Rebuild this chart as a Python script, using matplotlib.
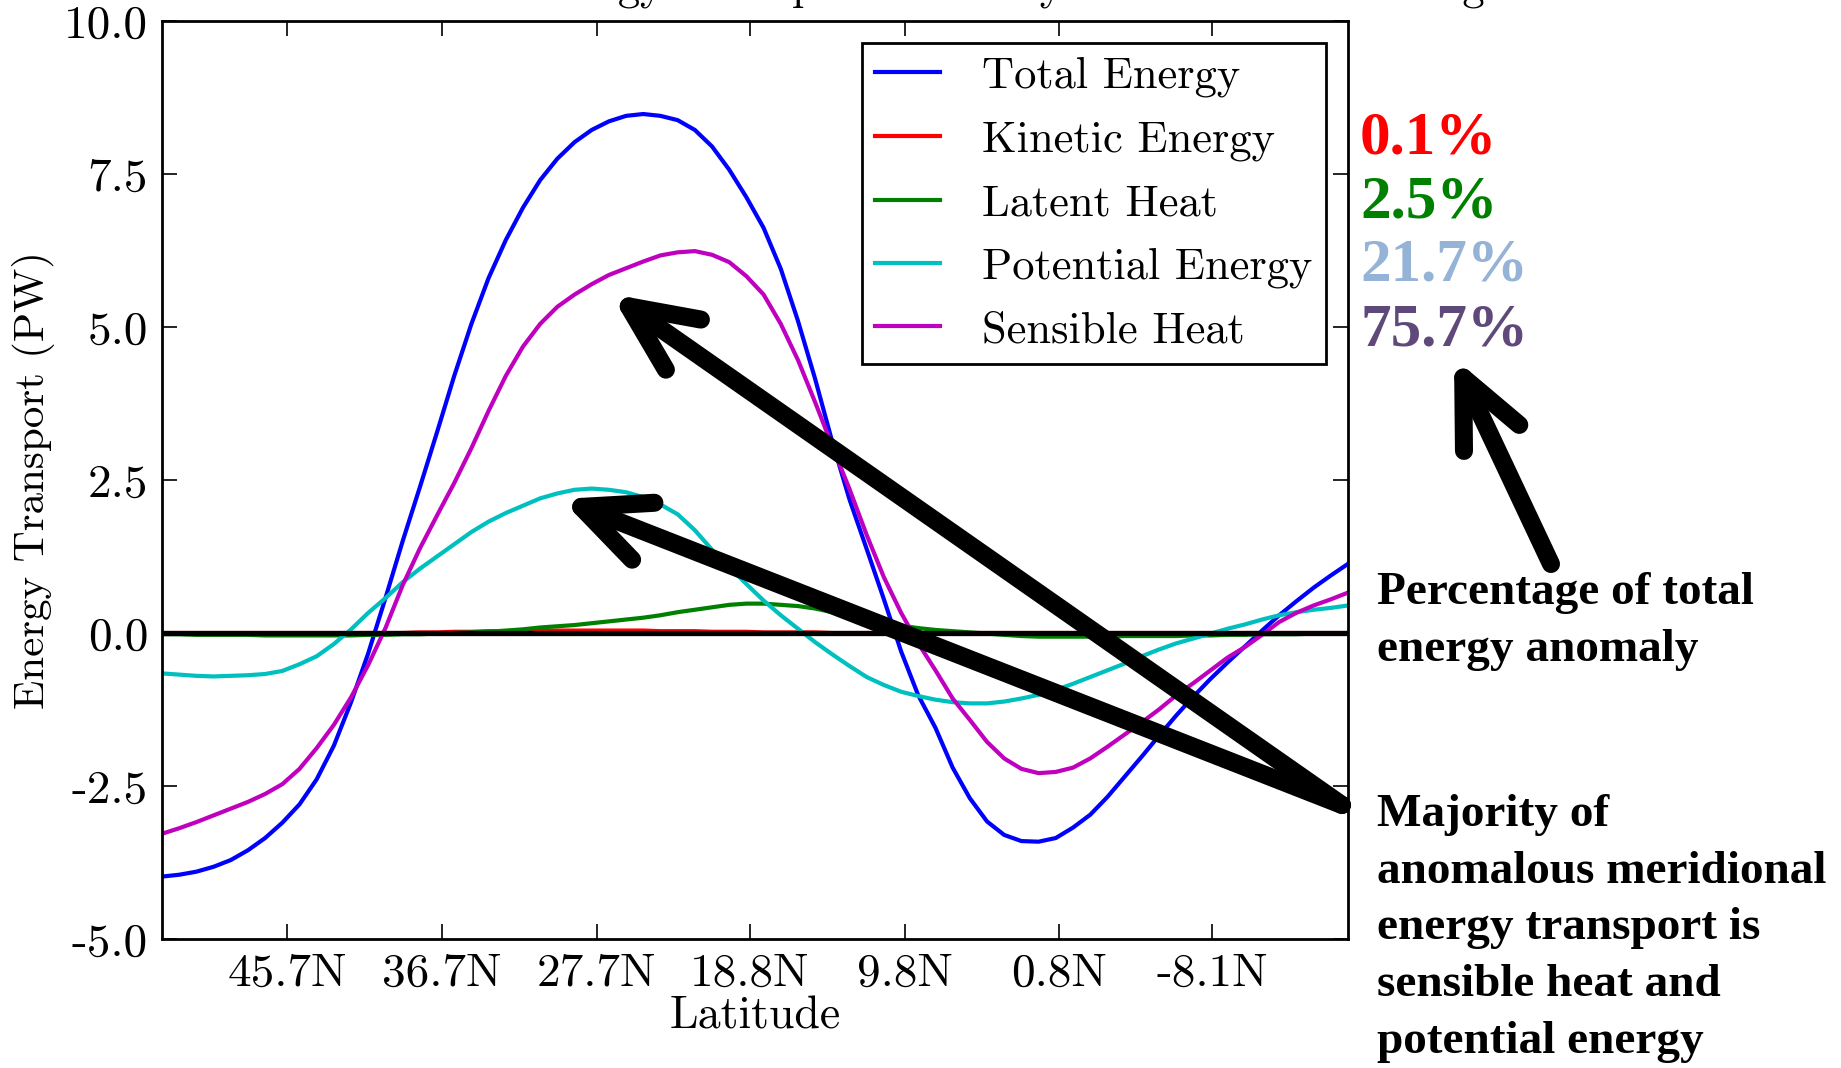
import matplotlib
matplotlib.use("Agg")
import matplotlib.pyplot as plt

plt.rcParams['font.family'] = 'serif'
plt.rcParams['font.serif'] = ['cmr10']
plt.rcParams['axes.unicode_minus'] = False
plt.rcParams['mathtext.fontset'] = 'cm'
plt.rcParams['axes.formatter.use_mathtext'] = True

# latitude (degrees N, 53 .. -16) and energy transport anomaly (PW)
lat = list(range(53, -17, -1))
total = [-3.98, -3.95, -3.90, -3.82, -3.71, -3.55, -3.35, -3.10, -2.80, -2.39,
         -1.84, -1.13, -0.33, 0.57, 1.50, 2.38, 3.28, 4.20, 5.05, 5.80,
         6.42, 6.95, 7.40, 7.75, 8.02, 8.22, 8.36, 8.45, 8.48, 8.45,
         8.38, 8.22, 7.95, 7.57, 7.12, 6.62, 5.95, 5.10, 4.15, 3.12,
         2.18, 1.37, 0.55, -0.30, -1.02, -1.55, -2.20, -2.70, -3.08, -3.30,
         -3.40, -3.41, -3.35, -3.18, -2.97, -2.68, -2.35, -2.02, -1.68, -1.35,
         -1.04, -0.75, -0.48, -0.22, 0.04, 0.29, 0.52, 0.74, 0.94, 1.13]
kinetic = [0.0, 0.0, 0.0, 0.0, 0.0, 0.0, 0.0, 0.0, 0.0, 0.0,
           0.0, 0.0, 0.0, 0.0, 0.0, 0.01, 0.01, 0.02, 0.02, 0.03,
           0.03, 0.04, 0.04, 0.04, 0.04, 0.04, 0.04, 0.04, 0.04, 0.03,
           0.03, 0.03, 0.02, 0.02, 0.02, 0.01, 0.01, 0.01, 0.01, 0.0,
           0.0, 0.0, 0.0, 0.0, 0.0, 0.0, 0.0, 0.0, 0.0, 0.0,
           0.0, 0.0, 0.0, 0.0, 0.0, 0.0, 0.0, 0.0, 0.0, 0.0,
           0.0, 0.0, 0.0, 0.0, 0.0, 0.0, 0.0, 0.0, 0.0, 0.0]
latent = [-0.02, -0.02, -0.03, -0.03, -0.03, -0.03, -0.04, -0.04, -0.04, -0.04,
          -0.04, -0.04, -0.03, -0.03, -0.02, -0.02, -0.01, 0.00, 0.01, 0.02,
          0.04, 0.06, 0.09, 0.11, 0.13, 0.16, 0.19, 0.22, 0.25, 0.29,
          0.34, 0.38, 0.42, 0.46, 0.48, 0.48, 0.46, 0.44, 0.40, 0.34,
          0.28, 0.21, 0.16, 0.12, 0.08, 0.05, 0.03, 0.01, -0.01, -0.03,
          -0.05, -0.06, -0.06, -0.06, -0.06, -0.06, -0.05, -0.05, -0.05, -0.05,
          -0.04, -0.04, -0.03, -0.03, -0.02, -0.02, -0.02, -0.01, -0.01, -0.01]
potential = [-0.66, -0.68, -0.70, -0.71, -0.70, -0.69, -0.67, -0.62, -0.51, -0.38,
             -0.18, 0.06, 0.33, 0.57, 0.83, 1.05, 1.25, 1.45, 1.65, 1.82,
             1.96, 2.08, 2.20, 2.28, 2.34, 2.36, 2.34, 2.30, 2.22, 2.10,
             1.94, 1.68, 1.36, 1.08, 0.80, 0.53, 0.29, 0.07, -0.15, -0.35,
             -0.54, -0.72, -0.85, -0.96, -1.03, -1.09, -1.13, -1.15, -1.15, -1.12,
             -1.07, -1.01, -0.93, -0.83, -0.72, -0.61, -0.50, -0.38, -0.27, -0.17,
             -0.09, -0.01, 0.07, 0.14, 0.22, 0.29, 0.34, 0.38, 0.41, 0.45]
sensible = [-3.28, -3.19, -3.09, -2.98, -2.87, -2.76, -2.63, -2.47, -2.22, -1.88,
            -1.50, -1.05, -0.52, 0.08, 0.78, 1.38, 1.92, 2.45, 3.02, 3.63,
            4.20, 4.68, 5.05, 5.33, 5.53, 5.70, 5.85, 5.96, 6.07, 6.17,
            6.22, 6.24, 6.18, 6.06, 5.83, 5.53, 5.05, 4.46, 3.77, 3.05,
            2.35, 1.60, 0.91, 0.33, -0.17, -0.61, -1.07, -1.42, -1.78, -2.05,
            -2.22, -2.29, -2.27, -2.20, -2.05, -1.86, -1.66, -1.46, -1.25, -1.02,
            -0.82, -0.61, -0.40, -0.23, -0.03, 0.18, 0.33, 0.45, 0.55, 0.66]

xtick_lats = [45.7, 36.7, 27.7, 18.8, 9.8, 0.8, -8.1]
xtick_labels = ['45.7N', '36.7N', '27.7N', '18.8N', '9.8N', '0.8N', '-8.1N']
yticks = [-5.0, -2.5, 0.0, 2.5, 5.0, 7.5, 10.0]

pct_labels = ['0.1%', '2.5%', '21.7%', '75.7%']
pct_colors = ['#FF0000', '#008000', '#95B3D7', '#5F497A']

W, H = 1841, 1068
fig = plt.figure(figsize=(W / 100, H / 100), dpi=100)
ax = fig.add_axes([162 / W, 1 - 939 / H, (1348 - 162) / W, (939 - 21) / H])


def fx(x):
    return x / W


def fy(y):
    return 1 - y / H


lw = 3.0
ax.plot(lat, total, color='b', lw=lw, label='Total Energy')
ax.plot(lat, kinetic, color='r', lw=lw, label='Kinetic Energy')
ax.plot(lat, latent, color='g', lw=lw, label='Latent Heat')
ax.plot(lat, potential, color='c', lw=lw, label='Potential Energy')
ax.plot(lat, sensible, color='m', lw=lw, label='Sensible Heat')
ax.axhline(0, color='k', lw=3.8)

ax.set_xlim(53.0, -16.0)
ax.set_ylim(-5, 10)
ax.set_xticks(xtick_lats)
ax.set_xticklabels(xtick_labels)
ax.set_yticks(yticks)
ax.set_yticklabels(['%.1f' % v for v in yticks])
ax.tick_params(direction='in', length=11, width=1.2, top=True, right=True,
               labelsize=34, pad=10)
for s in ax.spines.values():
    s.set_linewidth(2)

ax.set_xlabel('Latitude', fontsize=33)
ax.xaxis.label.set_va('baseline')
ax.xaxis.set_label_coords(0.5, -0.097)
ax.set_ylabel('Energy Transport (PW)', fontsize=31)
ax.yaxis.label.set_va('center')
ax.yaxis.set_label_coords(-0.108, 0.5)

leg = ax.legend(loc='upper right', fontsize=32, fancybox=False, edgecolor='black',
                handlelength=1.45, handletextpad=0.95, borderpad=0.3, labelspacing=0.52,
                framealpha=1)
leg.get_frame().set_linewidth(2)

# title runs off the top of the image; only descenders remain visible
fig.text(fx(526), fy(-1), 'Energy Transport Anomaly for Ensemble Average',
         fontsize=32, ha='left', va='baseline')

for i, (lab, col) in enumerate(zip(pct_labels, pct_colors)):
    fig.text(fx(1360), fy(153 + i * 64), lab, color=col, fontsize=44,
             fontweight='bold', family='Liberation Serif', ha='left', va='baseline')

note1 = ['Percentage of total', 'energy anomaly']
note2 = ['Majority of', 'anomalous meridional', 'energy transport is',
         'sensible heat and', 'potential energy']
for i, line in enumerate(note1):
    fig.text(fx(1377), fy(604 + i * 56.7), line, fontsize=34, fontweight='bold',
             family='Liberation Serif', ha='left', va='baseline')
for i, line in enumerate(note2):
    fig.text(fx(1377), fy(826 + i * 56.7), line, fontsize=34, fontweight='bold',
             family='Liberation Serif', ha='left', va='baseline')

arrows = [((611, 294), (1342, 805)), ((561, 499), (1342, 805)), ((1454, 358), (1551, 564))]
for tip, tail in arrows:
    ax.annotate('', xy=(tip[0], H - tip[1]), xytext=(tail[0], H - tail[1]),
                xycoords='figure pixels', textcoords='figure pixels',
                arrowprops=dict(arrowstyle='->, head_length=2.4, head_width=1.1',
                                mutation_scale=20, lw=13, color='black',
                                shrinkA=0, shrinkB=0, capstyle='round',
                                joinstyle='round'),
                annotation_clip=False)

fig.savefig('out.png', dpi=100)
